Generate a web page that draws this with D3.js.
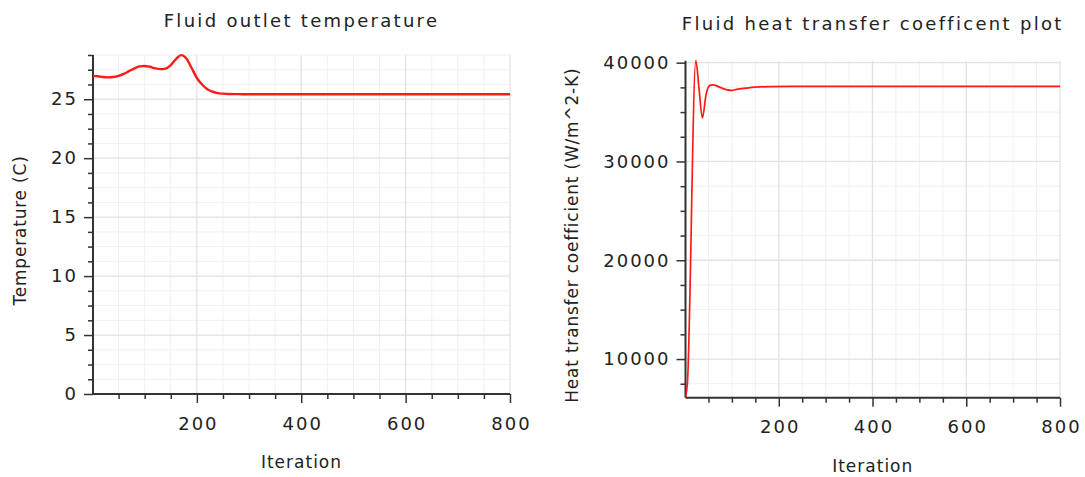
<!DOCTYPE html>
<html><head><meta charset="utf-8">
<script src="https://cdn.jsdelivr.net/npm/d3@7"></script>
<style>
html,body{margin:0;padding:0;background:#fff;}
svg{display:block;}
text{font-family:"DejaVu Sans",sans-serif;fill:#222;}
</style></head>
<body>
<svg id="c" width="1085" height="477"></svg>
<script>
// ---- data ----
const tempIter = [1,10,20,30,40,50,60,70,80,90,100,110,120,130,140,150,160,170,180,190,200,210,220,230,240,250,260,280,300,400,500,600,700,800];
const tempVal  = [26.98,26.95,26.88,26.85,26.88,26.98,27.15,27.38,27.6,27.78,27.82,27.75,27.62,27.55,27.6,27.9,28.4,28.74,28.45,27.65,26.8,26.25,25.85,25.65,25.52,25.47,25.44,25.43,25.42,25.42,25.42,25.42,25.42,25.42];
const htcIter = [1,5,23,30,37,45,53,60,70,80,90,100,110,130,150,180,250,400,600,800];
const htcVal  = [6085,7500,40200,37300,34400,36800,37700,37750,37600,37400,37250,37200,37300,37420,37520,37580,37600,37600,37600,37600];
const xLabelTicks = [200,400,600,800];
const tempLabelTicks = [0,5,10,15,20,25];
const htcLabelTicks = [10000,20000,30000,40000];

const charts = [
  {title:"Fluid outlet temperature", ytitle:"Temperature (C)", iters:tempIter, vals:tempVal,
   xr:[93,510], yr:[394,55], xd:[1,800], yd:[0,28.75], yMinorStep:1.25, yMinorStart:0,
   yLabels:tempLabelTicks, titleY:27, ytitleX:26, xtitleY:468, lw:2.4},
  {title:"Fluid heat transfer coefficent plot", ytitle:"Heat transfer coefficient (W/m^2-K)", iters:htcIter, vals:htcVal,
   xr:[685.5,1060], yr:[397.7,60.7], xd:[1,800], yd:[6085,40200], yMinorStep:2500, yMinorStart:7500,
   yLabels:htcLabelTicks, titleY:30, ytitleX:578, xtitleY:472, lw:1.7}
];

const svg = d3.select("#c");

charts.forEach(c => {
  const x = d3.scaleLinear().domain(c.xd).range(c.xr);
  const y = d3.scaleLinear().domain(c.yd).range(c.yr);
  const g = svg.append("g");
  const xMinor = d3.range(50, 801, 50);
  const yMinor = d3.range(c.yMinorStart, c.yd[1] + 1e-6, c.yMinorStep);

  // minor grid
  g.append("g").selectAll("line").data(xMinor.filter(v => !xLabelTicks.includes(v))).join("line")
    .attr("x1", d => x(d)).attr("x2", d => x(d)).attr("y1", c.yr[0]).attr("y2", c.yr[1])
    .attr("stroke", "#f1f1f1").attr("stroke-width", 1);
  g.append("g").selectAll("line").data(yMinor.filter(v => !c.yLabels.includes(v))).join("line")
    .attr("x1", c.xr[0]).attr("x2", c.xr[1]).attr("y1", d => y(d)).attr("y2", d => y(d))
    .attr("stroke", "#f1f1f1").attr("stroke-width", 1);
  // major grid
  g.append("g").selectAll("line").data(xLabelTicks).join("line")
    .attr("x1", d => x(d)).attr("x2", d => x(d)).attr("y1", c.yr[0]).attr("y2", c.yr[1])
    .attr("stroke", "#e2e2e2").attr("stroke-width", 1.3);
  g.append("g").selectAll("line").data(c.yLabels).join("line")
    .attr("x1", c.xr[0]).attr("x2", c.xr[1]).attr("y1", d => y(d)).attr("y2", d => y(d))
    .attr("stroke", "#e2e2e2").attr("stroke-width", 1.3);

  // x axis
  const xAxis = d3.axisBottom(x).tickValues(xMinor).tickSizeOuter(0)
    .tickSize(0).tickFormat(d => xLabelTicks.includes(d) ? d : "");
  const xa = g.append("g").attr("transform", `translate(0,${c.yr[0]})`).call(xAxis);
  xa.select(".domain").attr("stroke", "#333").attr("stroke-width", 2);
  xa.selectAll(".tick line").attr("stroke", "#333").attr("stroke-width", 1.5)
    .attr("y2", d => xLabelTicks.includes(d) ? 9 : 5);
  xa.selectAll(".tick text").attr("y", 23).attr("dy", "0.71em")
    .style("font-size", "18px").style("letter-spacing", "2px").attr("fill", "#222")
    .attr("dx", "1px");
  xa.select(".domain").attr("d", `M${c.xr[0]},0H${c.xr[1]}`);

  // y axis
  const yAxis = d3.axisLeft(y).tickValues(yMinor).tickSize(0)
    .tickFormat(d => c.yLabels.includes(d) ? d : "");
  const ya = g.append("g").attr("transform", `translate(${c.xr[0]},0)`).call(yAxis);
  ya.select(".domain").attr("stroke", "#333").attr("stroke-width", 2)
    .attr("d", `M0,${c.yr[0]}V${c.yr[1]}`);
  ya.selectAll(".tick line").attr("stroke", "#333").attr("stroke-width", 1.5)
    .attr("x2", d => c.yLabels.includes(d) ? -9 : -5);
  ya.selectAll(".tick text").attr("x", -15)
    .style("font-size", "18px").style("letter-spacing", "2px").attr("fill", "#222");

  // line
  const clipId = "clip" + Math.round(c.xr[0]);
  svg.append("clipPath").attr("id", clipId).append("rect")
    .attr("x", c.xr[0]).attr("y", c.yr[1]-3).attr("width", c.xr[1]-c.xr[0]).attr("height", c.yr[0]-c.yr[1]+3);
  const pts = c.iters.map((it, i) => [it, c.vals[i]]);
  g.append("path").datum(pts)
    .attr("clip-path", `url(#${clipId})`)
    .attr("fill", "none").attr("stroke", "#ff1a1a").attr("stroke-width", c.lw)
    .attr("stroke-linejoin", "round")
    .attr("d", d3.line().x(d => x(d[0])).y(d => y(d[1])).curve(d3.curveMonotoneX));

  // titles
  const cx = (c.xr[0] + c.xr[1]) / 2;
  g.append("text").attr("x", cx).attr("y", c.titleY).attr("text-anchor", "middle")
    .style("font-size", "18px").style("letter-spacing", "2.3px").text(c.title);
  g.append("text").attr("x", cx).attr("y", c.xtitleY).attr("text-anchor", "middle")
    .style("font-size", "17px").style("letter-spacing", "1px").text("Iteration");
  const cy = (c.yr[0] + c.yr[1]) / 2 + 6;
  g.append("text").attr("transform", `translate(${c.ytitleX},${cy}) rotate(-90)`)
    .attr("text-anchor", "middle")
    .style("font-size", "17px").style("letter-spacing", "0.8px").text(c.ytitle);
});
</script>
</body></html>
